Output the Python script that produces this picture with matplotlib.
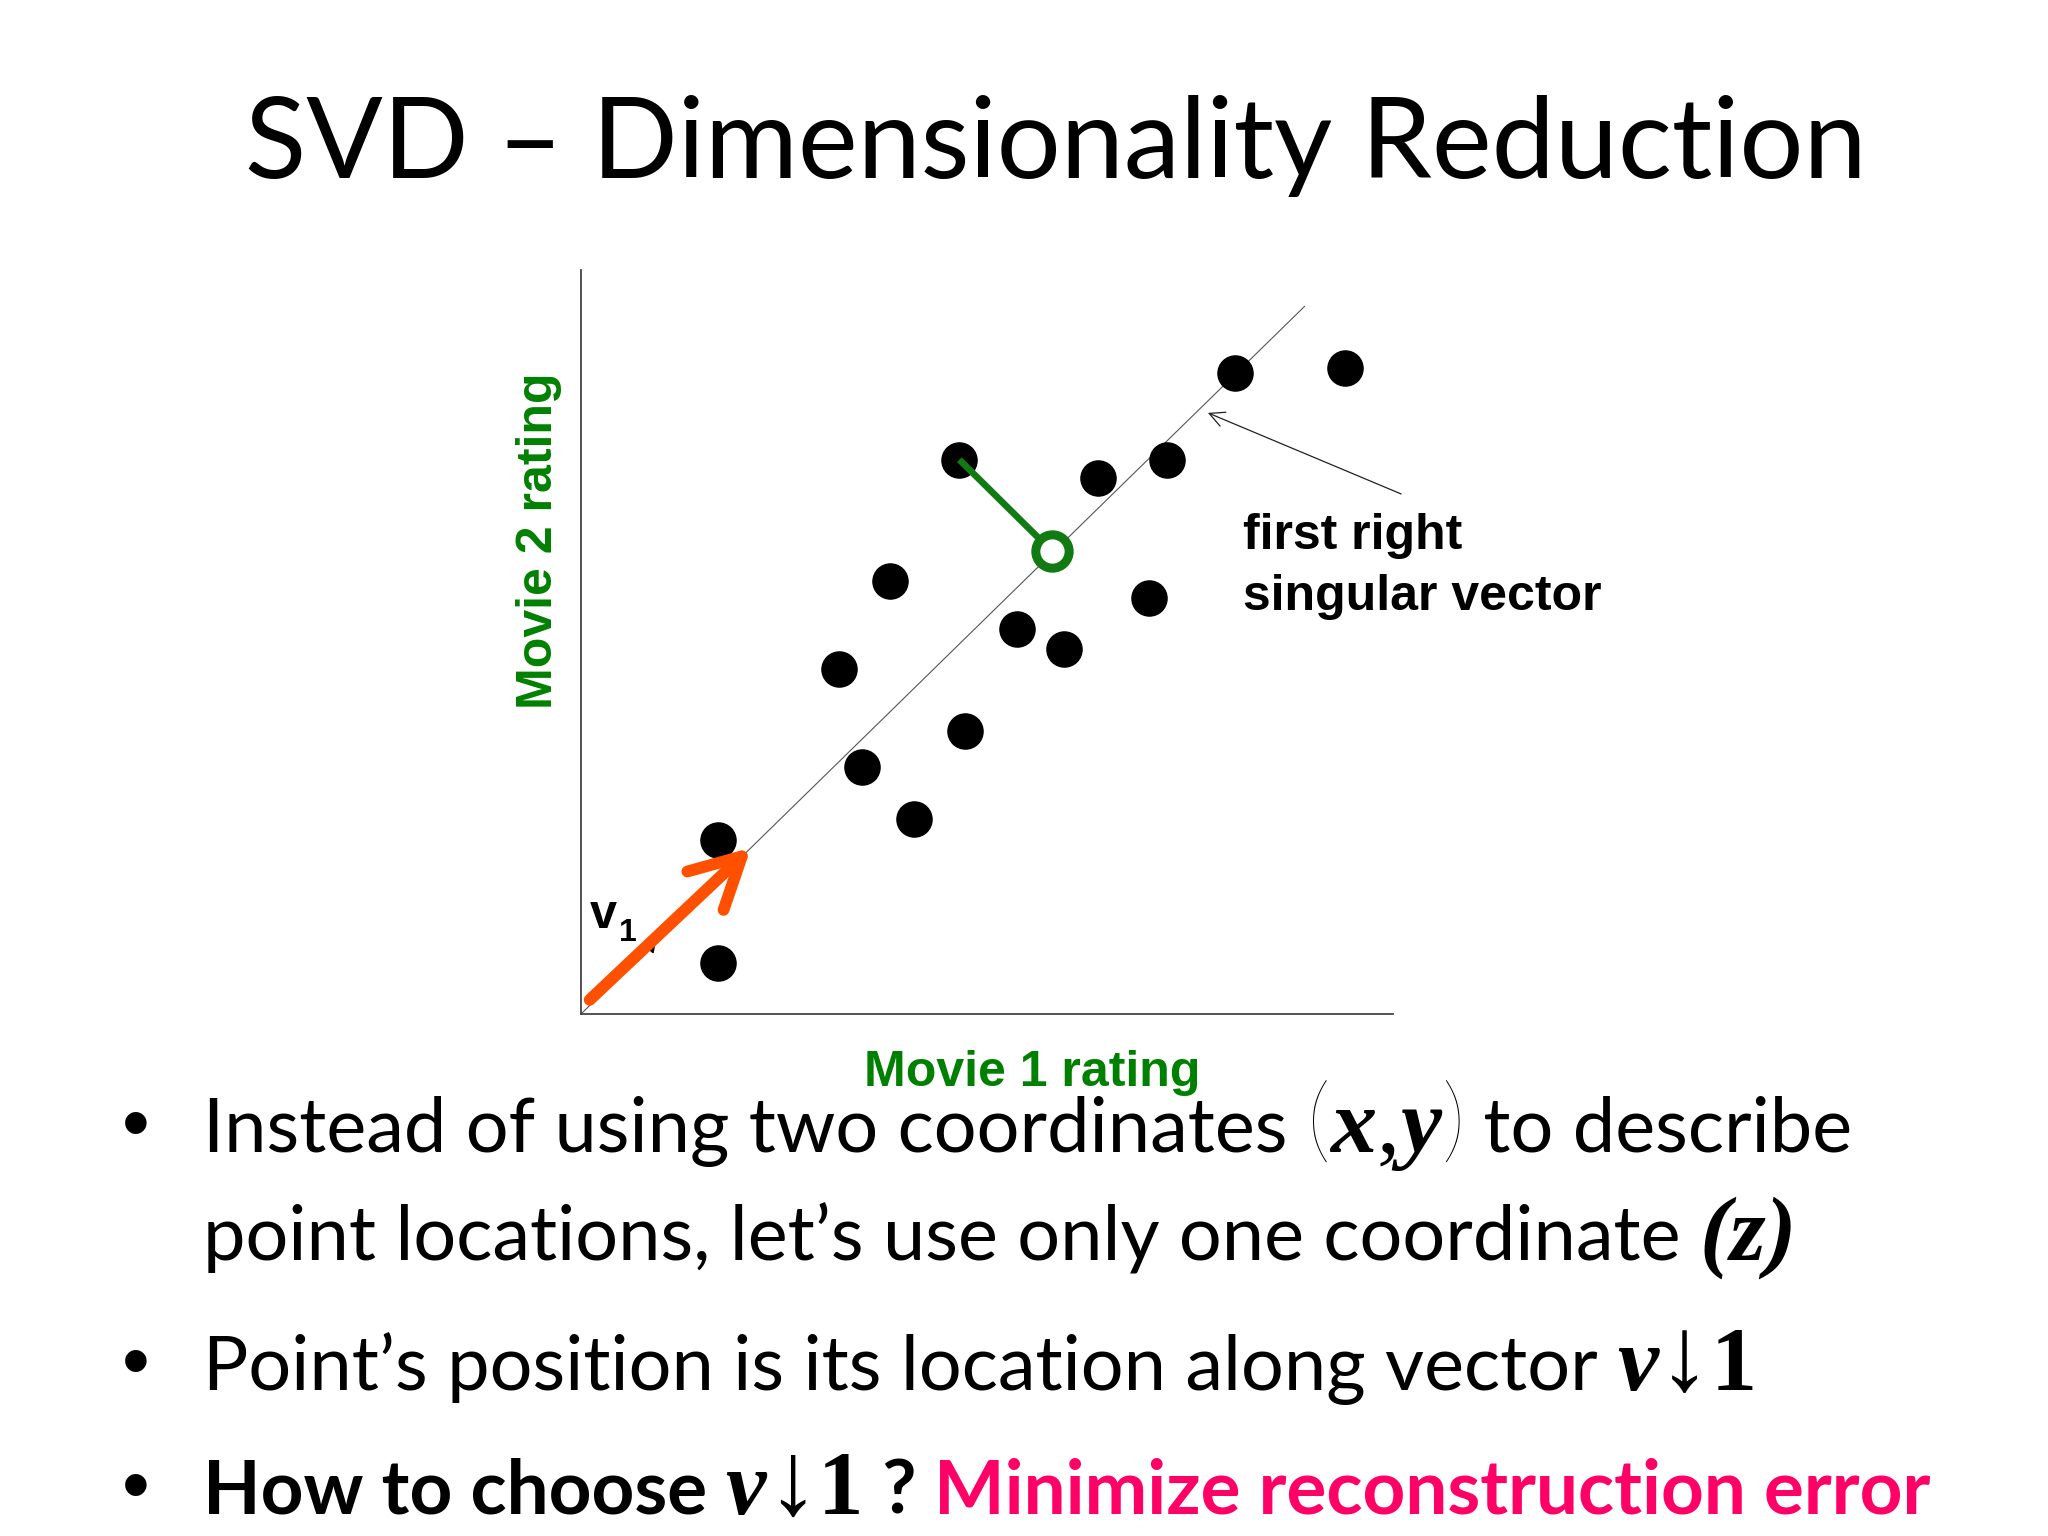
import matplotlib
matplotlib.use("Agg")
import matplotlib.pyplot as plt
import numpy as np

W, H = 2048, 1536

title = "SVD – Dimensionality Reduction"
xlabel = "Movie 1 rating"
ylabel = "Movie 2 rating"
note = "first right\nsingular vector"

# ratings
movie1 = [8.05, 9.41, 4.66, 6.37, 7.22, 3.81, 6.99, 5.37, 5.95, 3.18, 4.73, 3.46, 4.10, 1.69, 1.69]
movie2 = [8.61, 8.68, 7.45, 7.21, 7.45, 5.82, 5.59, 5.18, 4.90, 4.64, 3.80, 3.32, 2.62, 2.34, 0.69]

line_end = [8.91, 9.51]      # end of the first right singular vector line
v1_frac = 0.235              # part of the line drawn as v1
sel = 2                      # point that gets projected
proj = [5.80, 6.22]          # its projection on the line
note_tip = [7.72, 8.08]
note_tail = [10.10, 6.99]

GREEN = "#008000"
ORANGE = "#FF5000"
PINK = "#FF0066"

fig = plt.figure(figsize=(20.48, 15.36), dpi=100)
fig.patch.set_facecolor("white")
renderer = fig.canvas.get_renderer()


def fy(y):
    return 1 - y / H


# ---------------- scatter panel ----------------
ax = fig.add_axes([581 / W, 1 - 1014 / H, (1393 - 581) / W, (1014 - 270) / H])
ax.set_xlim(0, 10)
ax.set_ylim(0, 10)
ax.set_xticks([])
ax.set_yticks([])
for s in ["top", "right"]:
    ax.spines[s].set_visible(False)
for s in ["left", "bottom"]:
    ax.spines[s].set_color("#444444")
    ax.spines[s].set_linewidth(1.3)

ax.plot([0, line_end[0]], [0, line_end[1]], color="#555555", lw=0.8, zorder=1)
ax.scatter(movie1, movie2, s=640, color="black", zorder=3)

# projection of one point
ax.plot([movie1[sel], proj[0]], [movie2[sel], proj[1]], color="#127a12", lw=4.8,
        solid_capstyle="butt", zorder=4)
ax.plot(proj[0], proj[1], "o", ms=24, mfc="white", mec="#127a12", mew=6.5, zorder=5)

# v1 vector
tip = [line_end[0] * v1_frac, line_end[1] * v1_frac]
tail = [line_end[0] * 0.012, line_end[1] * 0.02]
ax.annotate("", xy=tip, xytext=tail,
            arrowprops=dict(arrowstyle="->,head_length=3.6,head_width=1.9", color=ORANGE,
                            lw=8.5, shrinkA=0, shrinkB=0, mutation_scale=10,
                            capstyle="round", joinstyle="round"), zorder=6)
ax.plot(0.85, 0.93, marker=(3, 0, -40), ms=11, color="black", zorder=5)
ax.text(0.11, 1.16, "v", fontsize=35, fontweight="bold", family="Liberation Sans",
        va="baseline", ha="left", zorder=7)
ax.text(0.47, 0.98, "1", fontsize=23, fontweight="bold", family="Liberation Sans",
        va="baseline", ha="left", zorder=7)

# annotation for the line
ax.annotate("", xy=note_tip, xytext=note_tail,
            arrowprops=dict(arrowstyle="->,head_length=0.9,head_width=0.45", color="#222222",
                            lw=0.9, shrinkA=0, shrinkB=0, mutation_scale=12),
            annotation_clip=False)
ax.text(8.15, 6.02, note, fontsize=36, fontweight="bold", family="Liberation Sans",
        va="center", ha="left", linespacing=1.42, clip_on=False)

fig.text(539 / W, fy(541), ylabel, rotation=90, ha="center", va="center",
         fontsize=36, fontweight="bold", color=GREEN, family="Liberation Sans")
fig.text(1032 / W, fy(1073), xlabel, ha="center", va="center",
         fontsize=36, fontweight="bold", color=GREEN, family="Liberation Sans")

# ---------------- slide text ----------------
BODY = ["Lato", "DejaVu Sans"]
SERIF = ["Liberation Serif", "DejaVu Serif"]


def advance(s, size, kw):
    a = fig.text(0, 0, s + "|", fontsize=size, **kw)
    b = fig.text(0, 0, "|", fontsize=size, **kw)
    w = a.get_window_extent(renderer).width - b.get_window_extent(renderer).width
    a.remove()
    b.remove()
    return w


def draw_runs(runs, x, y, size):
    texts = []
    for s, kw in runs:
        kw = dict(kw)
        rel = kw.pop("rel", 1.0)
        t = fig.text(x / W, fy(y), s, fontsize=size * rel, va="baseline", ha="left", **kw)
        texts.append(t)
        x += advance(s, size * rel, kw)
    return texts, x


def fitted(runs, x, y, size, right):
    trial, xend = draw_runs(runs, x, y, size)
    for tt in trial:
        tt.remove()
    return size * (right - x) / (xend - x)


t = fig.text(245 / W, fy(178), title, fontsize=80, family=BODY, va="baseline", ha="left")
bw = t.get_window_extent(renderer).width
t.set_fontsize(80 * 1622 / bw)

reg = dict(family=BODY)
bold = dict(family=BODY, fontweight="bold")
mi = dict(family=SERIF, fontweight="bold", style="italic", rel=1.22)
mb = dict(family=SERIF, fontweight="bold", rel=1.22)
mr = dict(family=SERIF, rel=1.22)
arr = dict(family=SERIF, rel=1.4)
par = dict(family=BODY, rel=1.25, fontweight="light")

lines = [
    [("Instead of using two coordinates ", reg), ("(", par), ("x", mi), (",", mr), ("y", mi),
     (")", par), (" to describe", reg)],
    [("point locations, let’s use only one coordinate ", reg), ("(z)", mi)],
    [("Point’s position is its location along vector ", reg), ("v", mi), ("↓", arr), ("1", mb)],
    [("How to choose ", bold), ("v", mi), ("↓", arr), ("1", mb), (" ? ", bold),
     ("Minimize reconstruction error", dict(family=BODY, fontweight="bold", color=PINK))],
]
baselines = [1152, 1260, 1390, 1514]
bullets = [True, False, True, True]
x0 = 203

size = fitted(lines[0], x0, baselines[0], 50, 1852)
size4 = fitted(lines[3], x0, baselines[3], size, 1930)

for runs, yb, b in zip(lines, baselines, bullets):
    sz = size4 if runs is lines[3] else size
    draw_runs(runs, x0, yb, sz)
    if b:
        fig.text(136 / W, fy(yb - 2), "•", fontsize=size * 1.05, family="Liberation Sans",
                 ha="center", va="baseline")

fig.savefig("out.png", dpi=100, facecolor="white")
